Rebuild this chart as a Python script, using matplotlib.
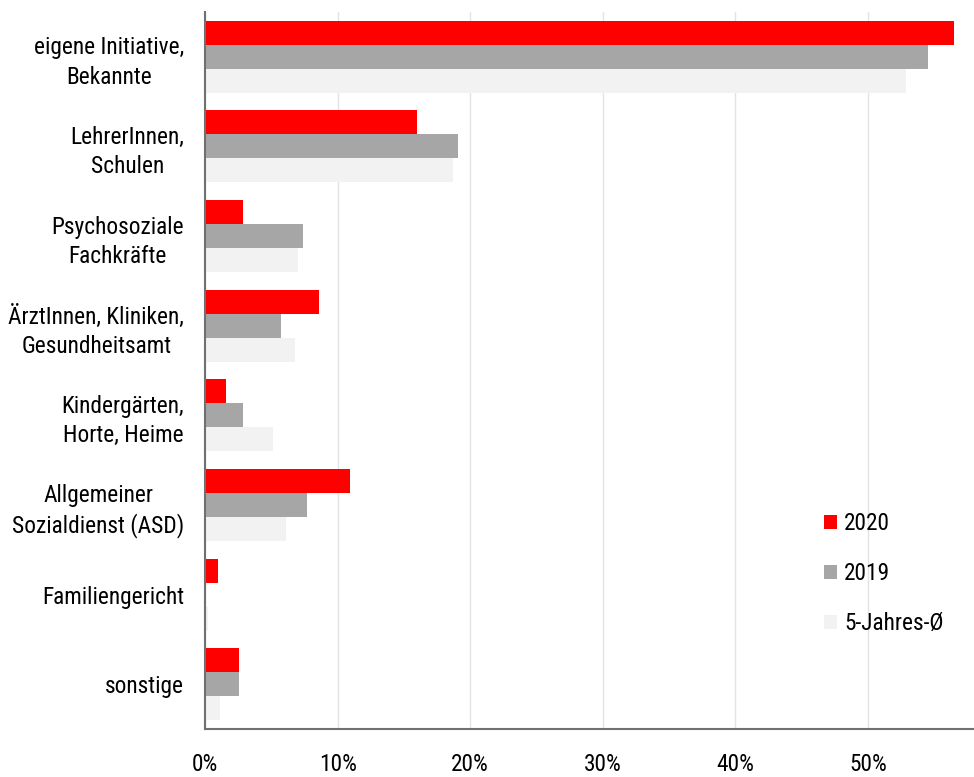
import numpy as np
import matplotlib
matplotlib.use("Agg")
import matplotlib.pyplot as plt
from matplotlib import font_manager
from matplotlib.ticker import PercentFormatter

# schmale Schrift, falls vorhanden
names = {f.name for f in font_manager.fontManager.ttflist}
family = [n for n in ["Liberation Sans Narrow", "Roboto Condensed", "DejaVu Sans Condensed",
                      "Open Sans Condensed", "Liberation Sans"] if n in names]
plt.rcParams['font.family'] = family + ['DejaVu Sans']

# Anteile je Zugangsweg (in %)
categories = [
    "eigene Initiative,\nBekannte",
    "LehrerInnen,\nSchulen",
    "Psychosoziale\nFachkräfte",
    "ÄrztInnen, Kliniken,\nGesundheitsamt",
    "Kindergärten,\nHorte, Heime",
    "Allgemeiner\nSozialdienst (ASD)",
    "Familiengericht",
    "sonstige",
]
values_2020 = [56.5, 16.0, 2.9, 8.6, 1.6, 10.9, 1.0, 2.6]
values_2019 = [54.5, 19.1, 7.4, 5.7, 2.9, 7.7, 0.0, 2.6]
values_avg5 = [52.9, 18.7, 7.0, 6.8, 5.1, 6.1, 0.2, 1.1]
series_labels = ["2020", "2019", "5-Jahres-Ø"]
colors = ["#FF0000", "#A6A6A6", "#F2F2F2"]

fig = plt.figure(figsize=(9.74, 7.77), dpi=100)
ax = fig.add_axes([205 / 974, 48 / 777, 769 / 974, 717 / 777])

y = np.arange(len(categories))
h = 0.268
for i, (vals, lab, col) in enumerate(zip([values_2020, values_2019, values_avg5], series_labels, colors)):
    ax.barh(y + (i - 1) * h, vals, height=h, color=col, label=lab, zorder=2)

ax.set_ylim(len(categories) - 0.5, -0.5)
ax.set_xlim(0, 58)
ax.set_xticks(np.arange(0, 60, 10))
ax.xaxis.set_major_formatter(PercentFormatter(decimals=0))
ax.set_yticks(y)
fs = 16.8 if family and family[0] != "Liberation Sans" else 14
ax.set_yticklabels(categories, multialignment="center", fontsize=fs, linespacing=1.35)
ax.tick_params(axis="x", labelsize=fs, length=0, pad=17)
ax.tick_params(axis="y", length=0, pad=15)

ax.grid(axis="x", color="#E3E3E3", linewidth=1, zorder=0)
for s in ["top", "right"]:
    ax.spines[s].set_visible(False)
for s in ["left", "bottom"]:
    ax.spines[s].set_color("#707070")
    ax.spines[s].set_linewidth(1.5)
    ax.spines[s].set_zorder(3)

leg = ax.legend(loc="upper left", bbox_to_anchor=((824 - 205) / 769, 0.302), frameon=False,
                borderpad=0, borderaxespad=0,
                fontsize=fs, handlelength=0.56, handleheight=0.56, handletextpad=0.3,
                labelspacing=1.15)

fig.savefig("out.png", dpi=100)
